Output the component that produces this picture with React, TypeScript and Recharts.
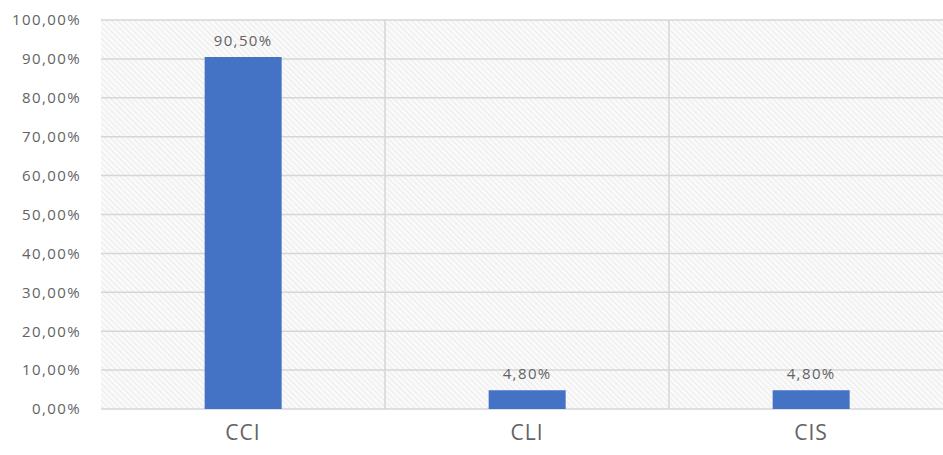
import React from 'react';
import { BarChart, Bar, XAxis, YAxis, CartesianGrid, LabelList } from 'recharts';

const categories = ['CCI', 'CLI', 'CIS'];
const shares = [0.905, 0.048, 0.048];
const yTicks = [0, 0.1, 0.2, 0.3, 0.4, 0.5, 0.6, 0.7, 0.8, 0.9, 1];

const data = categories.map((name, i) => ({ name, share: shares[i] }));

const pct = (v: number) => (v * 100).toFixed(2).replace('.', ',') + '%';

const FONT = '"Open Sans", "Noto Sans", sans-serif';
const TEXT = '#636363';
const GRID = '#d6d6d6';

const App: React.FC = () => {
  return (
    <div style={{ position: 'absolute', top: 0, left: 0, width: 943, height: 455, overflow: 'hidden', background: '#fff' }}>
      <BarChart
        width={953}
        height={455}
        data={data}
        margin={{ top: 20, right: 0, bottom: 0, left: 0 }}
        barCategoryGap="36.5%"
      >
        <defs>
          <pattern id="hatch" width="4" height="4" patternUnits="userSpaceOnUse" patternTransform="rotate(-45)">
            <rect width="4" height="4" fill="#fafafa" />
            <line x1="0" y1="0" x2="0" y2="4" stroke="#e3e3e3" strokeWidth="1.3" />
          </pattern>
        </defs>
        <CartesianGrid
          fill="url(#hatch)"
          stroke={GRID}
          strokeWidth={1.5}
          verticalCoordinatesGenerator={({ offset }: any) => [
            offset.left + offset.width / 3,
            offset.left + (2 * offset.width) / 3,
          ]}
        />
        <XAxis
          dataKey="name"
          height={46}
          axisLine={false}
          tickLine={false}
          tickSize={0}
          tickMargin={16}
          tick={{ fill: TEXT, fontSize: 21, fontFamily: FONT, letterSpacing: 1 }}
        />
        <YAxis
          width={101}
          domain={[0, 1]}
          ticks={yTicks}
          tickFormatter={pct}
          axisLine={false}
          tickLine={false}
          tickSize={0}
          tickMargin={20}
          tick={{ fill: TEXT, fontSize: 15, fontFamily: FONT, letterSpacing: 1.4 }}
        />
        <Bar dataKey="share" fill="#4472C4" isAnimationActive={false}>
          <LabelList
            dataKey="share"
            position="top"
            offset={11}
            formatter={(v: any) => pct(Number(v))}
            style={{ fill: TEXT, fontSize: 15, fontFamily: FONT, letterSpacing: 1.4 }}
          />
        </Bar>
      </BarChart>
    </div>
  );
};

export default App;
